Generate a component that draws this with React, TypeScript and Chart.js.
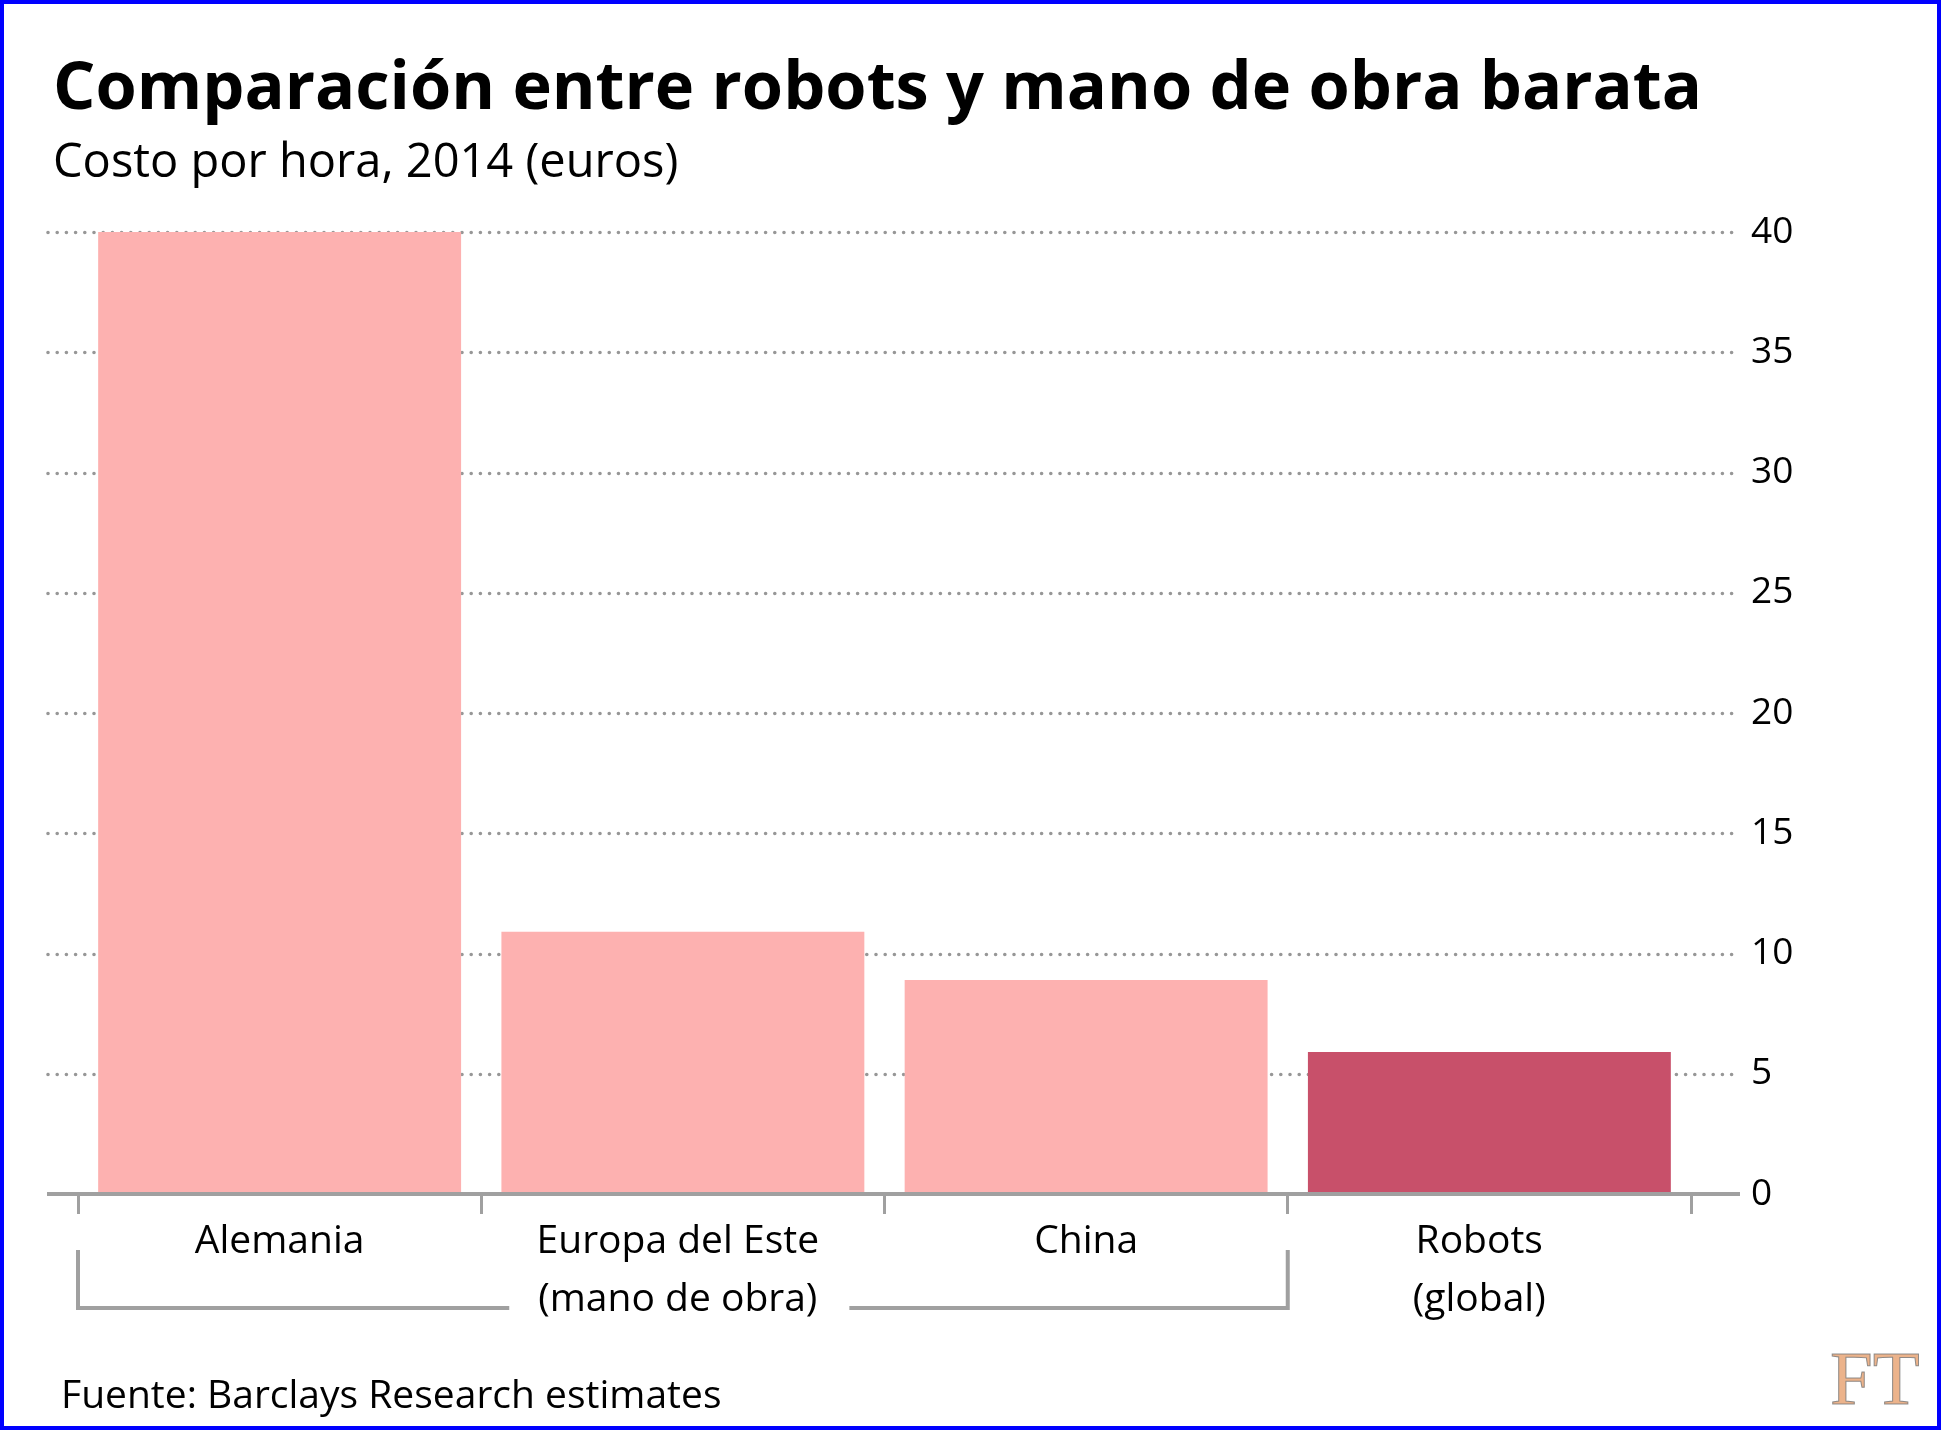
import React, { useEffect, useRef } from "react";
import { Chart, registerables } from "chart.js";

Chart.register(...registerables);

// ---- Data ----
const CATEGORIES: (string | string[])[] = [
  "Alemania",
  ["Europa del Este ", "(mano de obra) "],
  "China",
  ["Robots  ", "(global)  "],
];
const VALUES: number[] = [40, 10.9, 8.9, 5.9];
const BAR_COLORS: string[] = ["#fdb1b0", "#fdb1b0", "#fdb1b0", "#c8506a"];
const Y_MIN = 0;
const Y_MAX = 40;
const Y_STEP = 5;
const TITLE = "Comparación entre robots y mano de obra barata";
const SUBTITLE = "Costo por hora, 2014 (euros)";
const SOURCE = "Fuente: Barclays Research estimates";
const LOGO = "FT";
// bracket groups the labour categories (index range), interrupted by one label
const BRACKET_FROM = 0;
const BRACKET_TO = 2;
const BRACKET_LABEL = 1;

const FONT = "'Open Sans', 'Noto Sans', sans-serif";
const GRAY = "#a0a0a0";
const CAT_SIZE = 39;

const decor = {
  id: "decor",
  beforeDatasetsDraw(chart: any) {
    const { ctx, chartArea, scales } = chart;
    const y = scales.y;
    ctx.save();
    ctx.strokeStyle = "#979797";
    ctx.lineWidth = 3.6;
    ctx.lineCap = "round";
    ctx.setLineDash([0, 9.2]);
    y.ticks.forEach((t: any) => {
      if (t.value === Y_MIN) return;
      const py = Math.round(y.getPixelForValue(t.value)) + 0.5;
      ctx.beginPath();
      ctx.moveTo(chartArea.left - 30, py);
      ctx.lineTo(chartArea.right + 48, py);
      ctx.stroke();
    });
    ctx.restore();
  },
  afterDatasetsDraw(chart: any) {
    const { ctx, chartArea, scales } = chart;
    const x = scales.x;
    const y = scales.y;
    const y0 = y.getPixelForValue(Y_MIN);
    ctx.save();
    // axis line
    ctx.strokeStyle = GRAY;
    ctx.lineWidth = 4;
    ctx.beginPath();
    ctx.moveTo(chartArea.left - 31, y0);
    ctx.lineTo(chartArea.right + 49, y0);
    ctx.stroke();

    // bracket
    const half = (x.getPixelForValue(1) - x.getPixelForValue(0)) / 2;
    const bl = x.getPixelForValue(BRACKET_FROM) - half;
    const br = x.getPixelForValue(BRACKET_TO) + half;
    const bt = y0 + 56;
    const bb = y0 + 114;
    ctx.font = `${CAT_SIZE}px ${FONT}`;
    const lbl = CATEGORIES[BRACKET_LABEL];
    const full = Array.isArray(lbl) ? lbl[lbl.length - 1] : lbl;
    const W = ctx.measureText(full).width;
    const w = ctx.measureText(full.trim()).width;
    const cx = x.getPixelForValue(BRACKET_LABEL);
    const tl = cx - W / 2;
    const gl = tl - 29;
    const gr = tl + w + 32;
    ctx.lineWidth = 4;
    ctx.lineJoin = "miter";
    ctx.beginPath();
    ctx.moveTo(bl, bt);
    ctx.lineTo(bl, bb);
    ctx.lineTo(gl, bb);
    ctx.moveTo(gr, bb);
    ctx.lineTo(br, bb);
    ctx.lineTo(br, bt);
    ctx.stroke();
    ctx.restore();
  },
  afterDraw(chart: any) {
    const { ctx, width, height } = chart;
    ctx.save();
    ctx.fillStyle = "#000";
    ctx.textAlign = "left";
    ctx.textBaseline = "alphabetic";
    ctx.font = `bold 66.7px ${FONT}`;
    ctx.fillText(TITLE, 53, 109);
    ctx.font = `47px ${FONT}`;
    ctx.fillText(SUBTITLE, 53, 177);
    ctx.font = `39px ${FONT}`;
    ctx.fillText(SOURCE, 61, 1408);

    // logo
    ctx.font = `77px 'Liberation Serif', 'DejaVu Serif', serif`;
    ctx.fillStyle = "#ecb38b";
    ctx.fillText(LOGO, 1830, 1404);
    ctx.strokeStyle = "rgba(120,120,120,0.8)";
    ctx.lineWidth = 1;
    ctx.strokeText(LOGO, 1830, 1404);

    // border
    ctx.strokeStyle = "#0000ff";
    ctx.lineWidth = 4;
    ctx.strokeRect(2, 2, width - 4, height - 4);
    ctx.restore();
  },
};

export default function App() {
  const ref = useRef<HTMLCanvasElement>(null);
  useEffect(() => {
    document.body.style.margin = "0";
    document.body.style.background = "#fff";
    const canvas = ref.current!;
    const chart = new Chart(canvas, {
      type: "bar",
      data: {
        labels: CATEGORIES as any,
        datasets: [
          {
            data: VALUES,
            backgroundColor: BAR_COLORS,
            borderWidth: 0,
            barPercentage: 0.9,
            categoryPercentage: 1.0,
          },
        ],
      },
      options: {
        animation: false,
        responsive: false,
        devicePixelRatio: 1,
        layout: { padding: { left: 78, right: 140, top: 232, bottom: 86 } },
        plugins: {
          legend: { display: false },
          tooltip: { enabled: false },
          title: { display: false },
        },
        scales: {
          x: {
            offset: true,
            afterFit: (s: any) => {
              s.height = 150;
            },
            grid: {
              display: true,
              offset: true,
              drawOnChartArea: false,
              drawTicks: true,
              tickLength: 20,
              color: GRAY,
              tickColor: GRAY,
              lineWidth: 3,
              tickWidth: 3,
            },
            border: { display: false },
            ticks: {
              color: "#000",
              font: { family: FONT, size: CAT_SIZE, lineHeight: 58 / CAT_SIZE },
              padding: -1,
              maxRotation: 0,
              minRotation: 0,
              autoSkip: false,
            },
          },
          y: {
            position: "right",
            min: Y_MIN,
            max: Y_MAX,
            afterFit: (s: any) => {
              s.width = 110;
            },
            grid: { display: false, drawTicks: false },
            border: { display: false },
            ticks: {
              stepSize: Y_STEP,
              color: "#000",
              font: { family: FONT, size: 37 },
              padding: 60,
              crossAlign: "near",
            },
          },
        },
      },
      plugins: [decor],
    });
    return () => chart.destroy();
  }, []);
  return (
    <canvas
      ref={ref}
      width={1941}
      height={1430}
      style={{ display: "block", width: 1941, height: 1430 }}
    />
  );
}
